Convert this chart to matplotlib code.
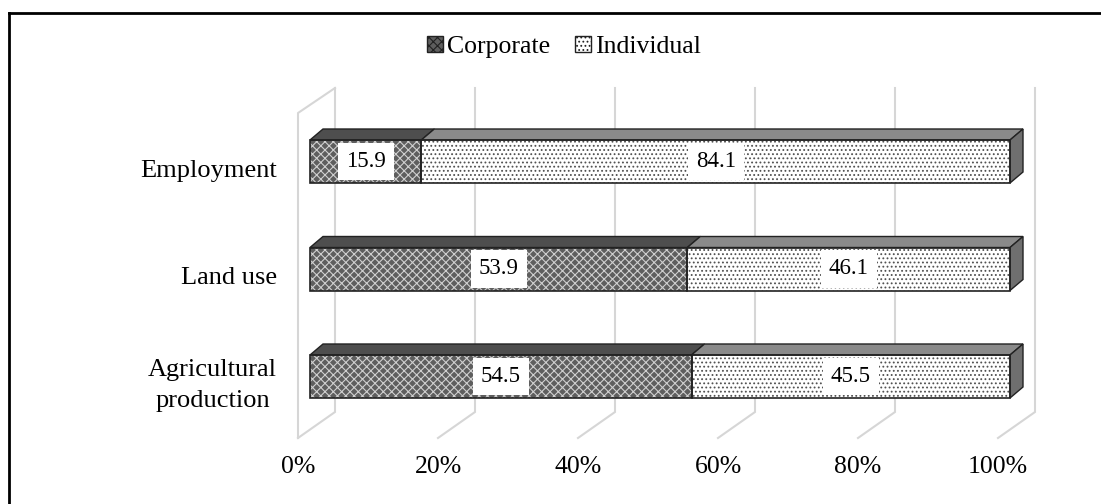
import numpy as np
import matplotlib.pyplot as plt
from matplotlib.patches import Polygon, Patch
from matplotlib.lines import Line2D

categories = ['Agricultural\nproduction', 'Land use', 'Employment']
corporate = [54.5, 53.9, 15.9]
individual = [45.5, 46.1, 84.1]
series_names = ['Corporate', 'Individual']
ticks = [0, 20, 40, 60, 80, 100]
tick_labels = ['0%', '20%', '40%', '60%', '80%', '100%']

plt.rcParams['font.family'] = ['Liberation Serif', 'DejaVu Serif']
plt.rcParams['hatch.linewidth'] = 0.8

W, H = 1101, 504
fig = plt.figure(figsize=(W / 100, H / 100), dpi=100)
ax = fig.add_axes([0, 0, 1, 1])
# data -> pixel: x_px = 310 + 7*pct, y_px = 376.5 - 107.5*i
ax.set_xlim(-310 / 7, (W - 310) / 7)
ax.set_ylim((376.5 - H) / 107.5, 376.5 / 107.5)
ax.axis('off')

px = 1 / 7       # one pixel in x units
py = 1 / 107.5   # one pixel in y units
def yp(p):
    return (376.5 - p) * py

grid_c = '#d6d6d6'
# back wall gridlines + floor diagonals
for t in ticks:
    ax.plot([t + 25 * px, t + 25 * px, t - 12 * px], [yp(88), yp(412), yp(438)],
            color=grid_c, lw=1.5, zorder=1, solid_joinstyle='miter')
# left side wall
ax.plot([-12 * px, -12 * px, 25 * px], [yp(438), yp(113), yp(88)],
        color=grid_c, lw=1.5, zorder=1)

y = np.arange(len(categories))
h = 0.4
corp_c = '#5e5e5e'
ax.barh(y, corporate, height=h, color=corp_c, hatch='xxxx', edgecolor='#cfcfcf', lw=0, zorder=3)
ax.barh(y, individual, left=corporate, height=h, color='white', hatch='....',
        edgecolor='#505050', lw=0, zorder=3)
ax.barh(y, corporate, height=h, fill=False, edgecolor='#222222', lw=1.2, zorder=4)
ax.barh(y, individual, left=corporate, height=h, fill=False, edgecolor='#222222', lw=1.2, zorder=4)

# 3D top and end faces
dxd, dyd = 13 * px, 11 * py
for i in range(len(categories)):
    top = y[i] + h / 2
    bot = y[i] - h / 2
    segs = [(0, corporate[i], '#4e4e4e'), (corporate[i], individual[i], '#8a8a8a')]
    for l, w, c in segs:
        ax.add_patch(Polygon([(l, top), (l + w, top), (l + w + dxd, top + dyd), (l + dxd, top + dyd)],
                             closed=True, fc=c, ec='#222222', lw=1.0, zorder=3))
    end = corporate[i] + individual[i]
    ax.add_patch(Polygon([(end, bot), (end, top), (end + dxd, top + dyd), (end + dxd, bot + dyd)],
                         closed=True, fc='#6f6f6f', ec='#222222', lw=1.0, zorder=3))
    # value labels
    ax.text(corporate[i] / 2, y[i], f'{corporate[i]}', ha='center', va='center', fontsize=16.5,
            zorder=5, bbox=dict(fc='white', ec='none', boxstyle='square,pad=0.35'))
    ax.text(corporate[i] + individual[i] / 2, y[i], f'{individual[i]}', ha='center', va='center',
            fontsize=16.5, zorder=5, bbox=dict(fc='white', ec='none', boxstyle='square,pad=0.35'))
    # category labels
    ax.text(-33 * px, y[i] - 9 * py, categories[i], ha='right', va='center', fontsize=19,
            linespacing=1.55, multialignment='center')

for t, lab in zip(ticks, tick_labels):
    ax.text(t - 12 * px, yp(467), lab, ha='center', va='center', fontsize=18.5)

handles = [Patch(facecolor=corp_c, hatch='xxxx', edgecolor='#222222'),
           Patch(facecolor='white', hatch='....', edgecolor='#222222')]
fig.legend(handles, series_names, loc='center', bbox_to_anchor=(564 / W, 1 - 47 / H), ncol=2,
           frameon=False, fontsize=18.5, handlelength=0.6, handleheight=0.6,
           handletextpad=0.15, columnspacing=1.0)

# chart border (left and top visible)
fig.add_artist(Line2D([9 / W, 9 / W], [0, 1 - 13 / H], transform=fig.transFigure, color='black', lw=2))
fig.add_artist(Line2D([9 / W, 1], [1 - 13 / H, 1 - 13 / H], transform=fig.transFigure, color='black', lw=2))

fig.savefig('out.png', dpi=100)
